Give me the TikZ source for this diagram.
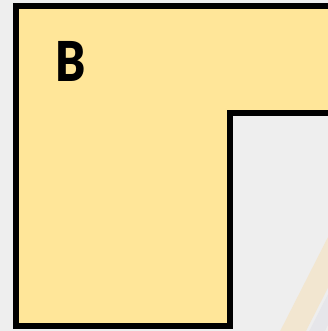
\documentclass[tikz,border=0pt]{standalone}
\usepackage{fontspec}
\newfontfamily\heavyfont{Lato}[UprightFont=* Black]
\definecolor{bgray}{RGB}{238,238,238}
\definecolor{lyellow}{RGB}{255,230,153}
\definecolor{faintorange}{RGB}{242,230,208}
\definecolor{faintwhite}{RGB}{230,230,234}
\begin{document}
\begin{tikzpicture}[x=1pt,y=-1pt,line join=miter]
\useasboundingbox (0,0) rectangle (328,331);
\fill[bgray] (0,0) rectangle (328,331);
% faint shapes behind the frame
\begin{scope}
\clip (233,116) rectangle (328,331);
\draw[faintwhite,line width=14pt] (312,341) -- (370,227);
\draw[faintorange,line width=23pt] (288,341) -- (346,227);
\end{scope}
\draw[fill=lyellow,line width=6pt] (16,6) -- (340,6) -- (340,113) -- (230,113) -- (230,326) -- (16,326) -- cycle;
\node[font=\heavyfont\fontsize{55}{55}\selectfont,inner sep=0pt,xscale=0.82] (labelB) at (70.5,61) {B};
\end{tikzpicture}
\end{document}
